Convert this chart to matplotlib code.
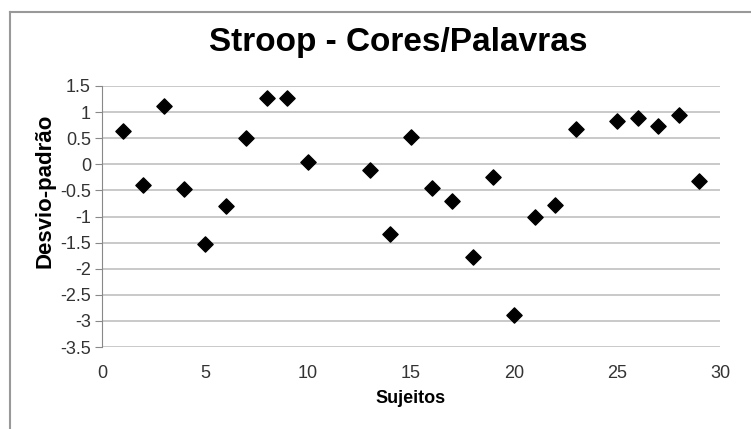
import matplotlib.pyplot as plt
from matplotlib.lines import Line2D

plt.rcParams['font.family'] = ['Liberation Sans', 'DejaVu Sans']

# dados
sujeitos = [1, 2, 3, 4, 5, 6, 7, 8, 9, 10, 13, 14, 15, 16, 17, 18, 19, 20,
            21, 22, 23, 25, 26, 27, 28, 29]
desvio = [0.64, -0.40, 1.12, -0.47, -1.53, -0.80, 0.50, 1.27, 1.27, 0.04,
          -0.11, -1.33, 0.52, -0.45, -0.70, -1.78, -0.24, -2.89,
          -1.01, -0.78, 0.68, 0.82, 0.88, 0.73, 0.94, -0.32]
yticks = [1.5, 1, 0.5, 0, -0.5, -1, -1.5, -2, -2.5, -3, -3.5]
xticks = [0, 5, 10, 15, 20, 25, 30]

fig = plt.figure(figsize=(7.51, 4.29), dpi=100)
ax = fig.add_axes([102/751, 1-347/429, 618/751, 261/429])

ax.scatter(sujeitos, desvio, marker='D', s=60, color='black', zorder=3)

ax.set_xlim(0, 30)
ax.set_ylim(-3.5, 1.5)
ax.set_xticks(xticks)
ax.set_yticks(yticks)
ax.set_yticklabels(['%g' % v for v in yticks])
ax.grid(axis='y', color='#c0c0c0', linewidth=1.2)
ax.set_axisbelow(True)

for s in ['top', 'right', 'bottom']:
    ax.spines[s].set_visible(False)
ax.spines['left'].set_color('#888888')
ax.tick_params(axis='y', length=5, color='#888888', labelsize=13, pad=3)
ax.tick_params(axis='x', length=0, labelsize=13, pad=13)
for lab in ax.get_xticklabels() + ax.get_yticklabels():
    lab.set_color('#333333')

ax.set_xlabel('Sujeitos', fontweight='bold', fontsize=13, labelpad=6)
fig.text(45/751, 1-191/429, 'Desvio-padrão', fontweight='bold', fontsize=16,
         rotation=90, ha='center', va='center')
fig.text(398/751, 1-42/429, 'Stroop - Cores/Palavras', fontsize=24,
         fontweight='bold', ha='center', va='center')

# moldura do gráfico
fig.add_artist(Line2D([10/751, 10/751], [0, 1-12/429], color='#999999', linewidth=1.5))
fig.add_artist(Line2D([10/751, 1], [1-12/429, 1-12/429], color='#999999', linewidth=1.5))

plt.savefig('out.png', dpi=100)
